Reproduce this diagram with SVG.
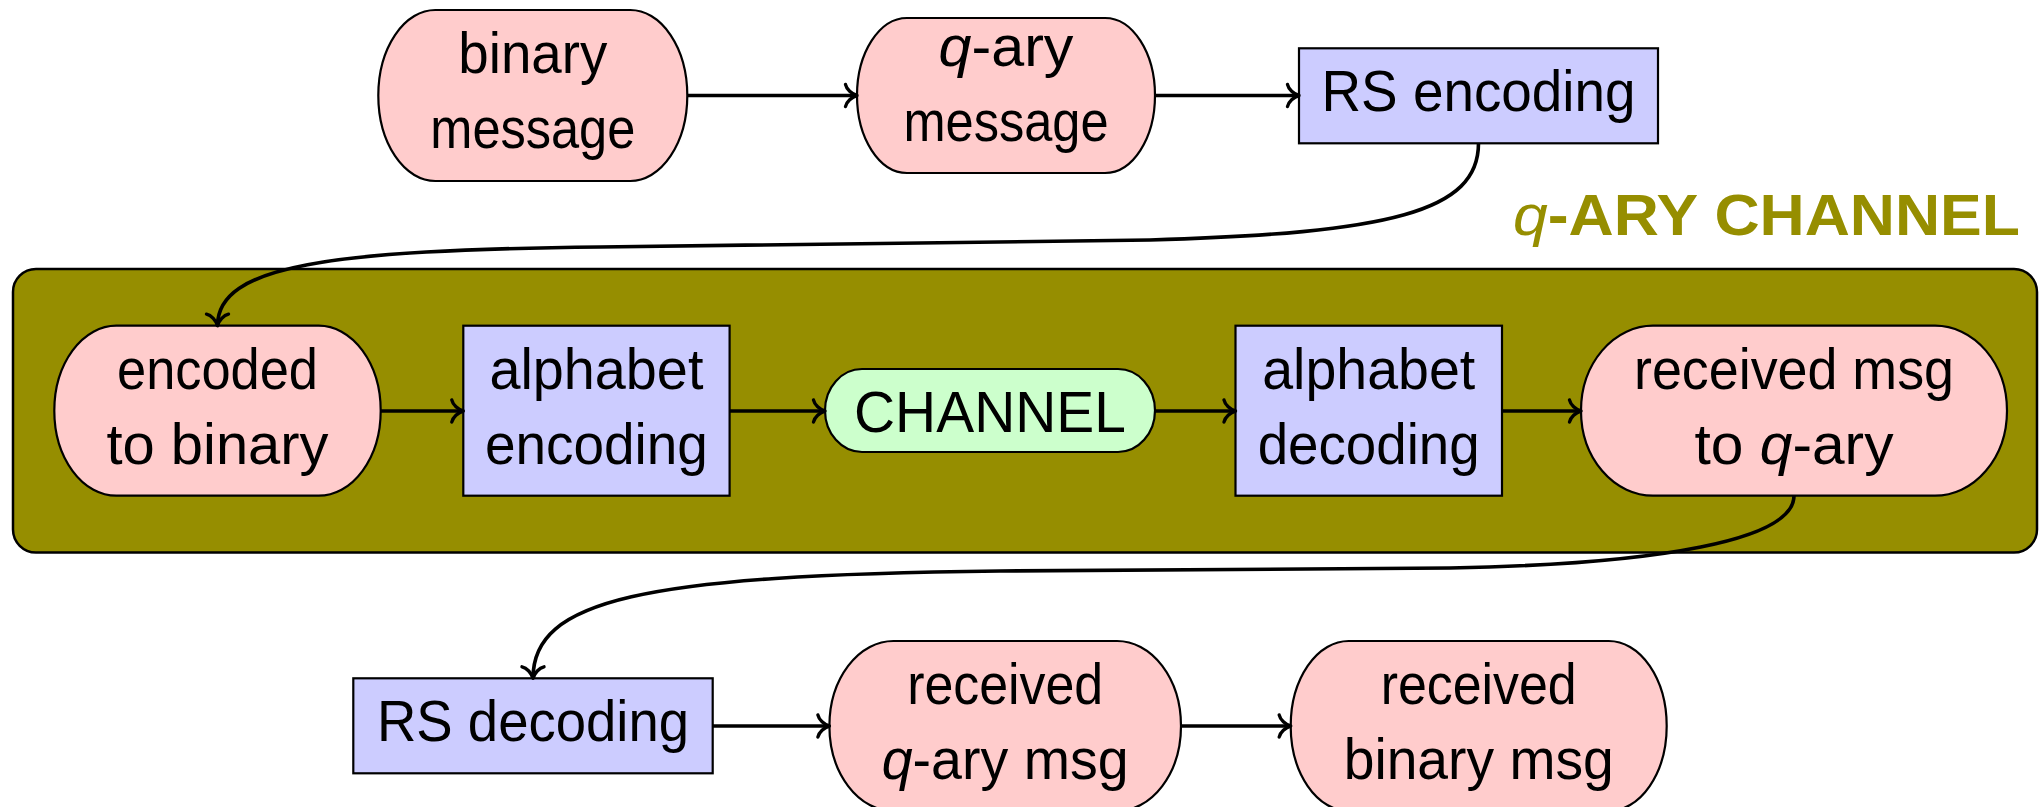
<svg xmlns="http://www.w3.org/2000/svg" width="2040" height="807" viewBox="0 0 2040 807">
  <style>
    .lbl { font-family: "Liberation Sans", Arial, sans-serif; font-size: 57px; fill: #000; text-anchor: middle; }
    .q { font-style: italic; }
    .msg { fill: #FFCCCC; stroke: #000; stroke-width: 2.2; }
    .proc { fill: #CCCCFF; stroke: #000; stroke-width: 2.2; }
    .chan { fill: #CCFFCC; stroke: #000; stroke-width: 2.2; }
    .edge { fill: none; stroke: #000; stroke-width: 3.6; marker-end: url(#to); }
    .title { font-family: "Liberation Sans", Arial, sans-serif; font-size: 57px; fill: #968E00; }
  </style>
  <defs>
    <marker id="to" viewBox="-16 -16 20 32" refX="0" refY="0" markerWidth="20" markerHeight="32" markerUnits="userSpaceOnUse" orient="auto" overflow="visible">
      <path d="M-11.5,-11 C-10.5,-6.3 -5.2,-1.4 0,0 C-5.2,1.4 -10.5,6.3 -11.5,11" fill="none" stroke="#000" stroke-width="3.4" stroke-linecap="round" stroke-linejoin="round"/>
    </marker>
  </defs>

  <!-- channel frame -->
  <g id="qary-channel">
    <rect x="13" y="269" width="2024" height="283.5" rx="23" ry="23" fill="#968E00" stroke="#000" stroke-width="2.5"/>
    <text class="title" x="1513" y="235" textLength="507" lengthAdjust="spacingAndGlyphs"><tspan class="q">q</tspan><tspan font-weight="bold">-ARY CHANNEL</tspan></text>
  </g>

  <!-- top row -->
  <g id="binary-message">
    <rect class="msg" x="378.3" y="10" width="309" height="171" rx="57" ry="85.5"/>
    <text class="lbl" x="532.8" y="73.3" textLength="149" lengthAdjust="spacingAndGlyphs">binary</text>
    <text class="lbl" x="532.8" y="148.3" textLength="205" lengthAdjust="spacingAndGlyphs">message</text>
  </g>
  <g id="qary-message">
    <rect class="msg" x="857" y="18" width="298" height="155" rx="50" ry="77.5"/>
    <text class="lbl" x="1006" y="65.5" textLength="135" lengthAdjust="spacingAndGlyphs"><tspan class="q">q</tspan>-ary</text>
    <text class="lbl" x="1006" y="140.5" textLength="205" lengthAdjust="spacingAndGlyphs">message</text>
  </g>
  <g id="rs-encoding">
    <rect class="proc" x="1299" y="48.3" width="359" height="95"/>
    <text class="lbl" x="1478.5" y="110.8" textLength="314" lengthAdjust="spacingAndGlyphs">RS encoding</text>
  </g>

  <!-- channel row -->
  <g id="encoded-to-binary">
    <rect class="msg" x="54.3" y="325.7" width="326.4" height="170" rx="62" ry="85"/>
    <text class="lbl" x="217.5" y="388.8" textLength="201" lengthAdjust="spacingAndGlyphs">encoded</text>
    <text class="lbl" x="217.5" y="463.8" textLength="222" lengthAdjust="spacingAndGlyphs">to binary</text>
  </g>
  <g id="alphabet-encoding">
    <rect class="proc" x="463.3" y="325.7" width="266.3" height="170"/>
    <text class="lbl" x="596.4" y="388.8" textLength="214" lengthAdjust="spacingAndGlyphs">alphabet</text>
    <text class="lbl" x="596.4" y="463.8" textLength="223" lengthAdjust="spacingAndGlyphs">encoding</text>
  </g>
  <g id="channel">
    <rect class="chan" x="825" y="369" width="330" height="83" rx="37" ry="41.5"/>
    <text class="lbl" x="990" y="431.5" textLength="272" lengthAdjust="spacingAndGlyphs">CHANNEL</text>
  </g>
  <g id="alphabet-decoding">
    <rect class="proc" x="1235.5" y="325.7" width="266.5" height="170"/>
    <text class="lbl" x="1368.7" y="388.8" textLength="213" lengthAdjust="spacingAndGlyphs">alphabet</text>
    <text class="lbl" x="1368.7" y="463.8" textLength="222" lengthAdjust="spacingAndGlyphs">decoding</text>
  </g>
  <g id="received-to-qary">
    <rect class="msg" x="1581" y="325.7" width="426" height="170" rx="72" ry="85"/>
    <text class="lbl" x="1794" y="388.8" textLength="320" lengthAdjust="spacingAndGlyphs">received msg</text>
    <text class="lbl" x="1794" y="463.8" textLength="199" lengthAdjust="spacingAndGlyphs">to <tspan class="q">q</tspan>-ary</text>
  </g>

  <!-- bottom row -->
  <g id="rs-decoding">
    <rect class="proc" x="353.3" y="678.3" width="359.4" height="95"/>
    <text class="lbl" x="533" y="741" textLength="312" lengthAdjust="spacingAndGlyphs">RS decoding</text>
  </g>
  <g id="received-qary-msg">
    <rect class="msg" x="829.4" y="641" width="351.6" height="170" rx="64" ry="85"/>
    <text class="lbl" x="1005.2" y="703.5" textLength="196" lengthAdjust="spacingAndGlyphs">received</text>
    <text class="lbl" x="1005.2" y="778.5" textLength="247" lengthAdjust="spacingAndGlyphs"><tspan class="q">q</tspan>-ary msg</text>
  </g>
  <g id="received-binary-msg">
    <rect class="msg" x="1290.7" y="641" width="376" height="170" rx="58" ry="85"/>
    <text class="lbl" x="1478.7" y="703.5" textLength="196" lengthAdjust="spacingAndGlyphs">received</text>
    <text class="lbl" x="1478.7" y="778.5" textLength="270" lengthAdjust="spacingAndGlyphs">binary msg</text>
  </g>

  <!-- connectors -->
  <g id="connectors">
    <path class="edge" d="M687.3,95.5 H857"/>
    <path class="edge" d="M1155,95.5 H1299"/>
    <path class="edge" d="M1478.5,143.3 C1478.5,212 1390,233 1150,240 L600,247 C330,250 217.5,265 217.5,325.7"/>
    <path class="edge" d="M380.7,411 H463.3"/>
    <path class="edge" d="M729.6,411 H825"/>
    <path class="edge" d="M1155,411 H1235.5"/>
    <path class="edge" d="M1502,411 H1581"/>
    <path class="edge" d="M1794,495.7 C1794,540 1660,564 1450,568 L1000,571 C640,575 533,600 533,678.3"/>
    <path class="edge" d="M712.7,726 H829.4"/>
    <path class="edge" d="M1181,726 H1290.7"/>
  </g>
</svg>
